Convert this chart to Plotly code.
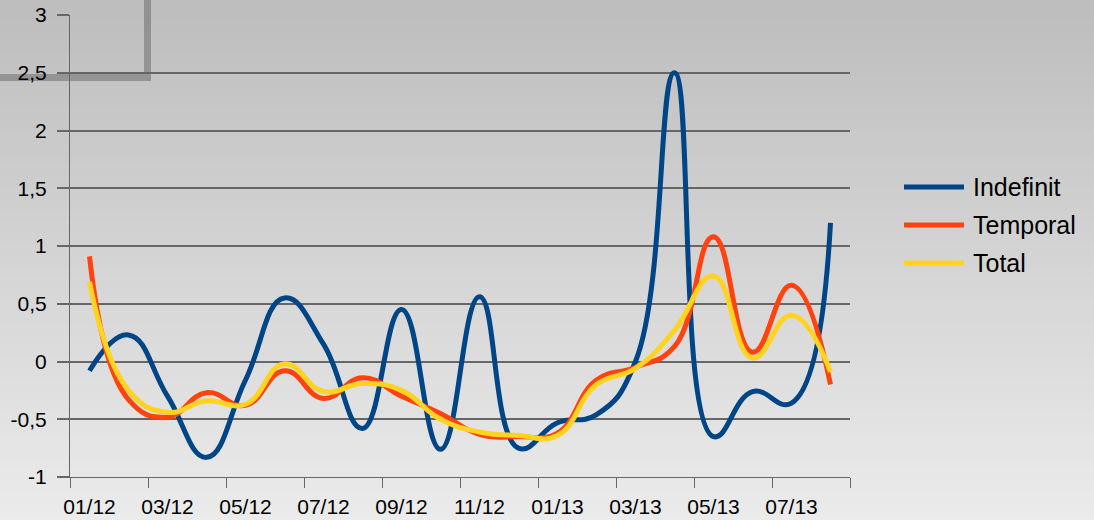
import base64
import struct
import zlib

import plotly.graph_objects as go

# ---------------- data ----------------
months = ["01/12", "02/12", "03/12", "04/12", "05/12", "06/12", "07/12", "08/12",
          "09/12", "10/12", "11/12", "12/12", "01/13", "02/13", "03/13", "04/13",
          "05/13", "06/13", "07/13", "08/13"]

indefinit = [-0.08, 0.23, -0.30, -0.83, -0.16, 0.55, 0.15, -0.58, 0.45, -0.76,
             0.56, -0.75, -0.53, -0.46, 0.00, 2.50, -0.65, -0.26, -0.36, 1.20]
temporal = [0.91, -0.33, -0.48, -0.27, -0.38, -0.08, -0.32, -0.14, -0.30, -0.45,
            -0.63, -0.65, -0.62, -0.16, -0.05, 0.13, 1.08, 0.08, 0.66, -0.20]
total = [0.69, -0.25, -0.44, -0.34, -0.37, -0.02, -0.26, -0.19, -0.25, -0.50,
         -0.61, -0.64, -0.64, -0.20, -0.06, 0.27, 0.74, 0.03, 0.40, -0.09]

series_names = ["Indefinit", "Temporal", "Total"]
series_values = [indefinit, temporal, total]
series_colors = ["#004586", "#ff420e", "#ffd320"]

y_tickvals = [-1, -0.5, 0, 0.5, 1, 1.5, 2, 2.5, 3]
y_ticktext = ["-1", "-0,5", "0", "0,5", "1", "1,5", "2", "2,5", "3"]

# ---------------- geometry ----------------
W, H = 1094, 520
L, R, T, B = 70, 850, 15, 477  # plot area in pixels


def px_x(p):
    return (p - L) / (R - L)


def px_y(p):
    return (B - p) / (B - T)


# ---------------- gradient background image ----------------
def gradient_png(h, top, bottom, w=2):
    raw = b""
    for r in range(h):
        t = r / (h - 1)
        c = bytes(round(top[k] + (bottom[k] - top[k]) * t) for k in range(3))
        raw += b"\x00" + c * w

    def chunk(tag, data):
        return (struct.pack(">I", len(data)) + tag + data
                + struct.pack(">I", zlib.crc32(tag + data) & 0xFFFFFFFF))

    ihdr = struct.pack(">IIBBBBB", w, h, 8, 2, 0, 0, 0)
    png = (b"\x89PNG\r\n\x1a\n" + chunk(b"IHDR", ihdr)
           + chunk(b"IDAT", zlib.compress(raw)) + chunk(b"IEND", b""))
    return "data:image/png;base64," + base64.b64encode(png).decode()


bg_src = gradient_png(260, (189, 189, 189), (235, 235, 235))

fig = go.Figure()

for name, vals, col in zip(series_names, series_values, series_colors):
    fig.add_trace(go.Scatter(
        x=months, y=vals, name=name, mode="lines",
        line=dict(color=col, width=5, shape="spline", smoothing=1.3),
        showlegend=False,
    ))

shapes = []
annotations = []
# manual legend
leg_y = [187, 225, 263]
for name, col, yy in zip(series_names, series_colors, leg_y):
    shapes.append(dict(type="line", xref="paper", yref="paper",
                       x0=px_x(904), x1=px_x(964), y0=px_y(yy), y1=px_y(yy),
                       line=dict(color=col, width=5), layer="above"))
    annotations.append(dict(text=name, xref="paper", yref="paper",
                            x=px_x(971), y=px_y(yy), xanchor="left", yanchor="middle",
                            showarrow=False,
                            font=dict(size=25, color="#000000", family="Liberation Sans")))

# decorative frame corner (top-left)
shapes.append(dict(type="path", xref="paper", yref="paper",
                   path="M %f,%f L %f,%f L %f,%f" % (px_x(-5), px_y(77.5), px_x(147.5), px_y(77.5),
                                                     px_x(147.5), px_y(-5)),
                   line=dict(color="rgba(110,110,110,0.55)", width=7), layer="below"))

fig.update_layout(
    width=W, height=H,
    margin=dict(l=L, r=W - R, t=T, b=H - B, pad=0),
    paper_bgcolor="#d4d4d4",
    plot_bgcolor="rgba(0,0,0,0)",
    font=dict(family="Liberation Sans", size=21, color="#000000"),
    images=[dict(source=bg_src, xref="paper", yref="paper",
                 x=px_x(0), y=px_y(0), sizex=W / (R - L), sizey=H / (B - T),
                 xanchor="left", yanchor="top", sizing="stretch", layer="below")],
    shapes=shapes,
    annotations=annotations,
    xaxis=dict(
        type="category", range=[-0.5, 19.5],
        tickmode="linear", tick0=0, dtick=2, tickson="boundaries", tickangle=0,
        ticks="outside", ticklen=10, tickwidth=1, tickcolor="#666666",
        showline=True, linecolor="#666666", linewidth=1,
        showgrid=False, zeroline=False, automargin=False,
        tickfont=dict(size=21, color="#000000"),
        ticklabelstandoff=11,
    ),
    yaxis=dict(
        range=[-1, 3], tickmode="array", tickvals=y_tickvals, ticktext=y_ticktext,
        ticks="outside", ticklen=12, tickwidth=1.5, tickcolor="#666666",
        showline=True, linecolor="#666666", linewidth=1,
        showgrid=True, gridcolor="#666666", gridwidth=1.5,
        zeroline=False, automargin=False,
        tickfont=dict(size=21, color="#000000"),
        ticklabelstandoff=6,
    ),
)

fig.write_html("out.html",
               config={"displayModeBar": False},
               post_script="document.body.style.margin='0';document.body.style.overflow='hidden';")
